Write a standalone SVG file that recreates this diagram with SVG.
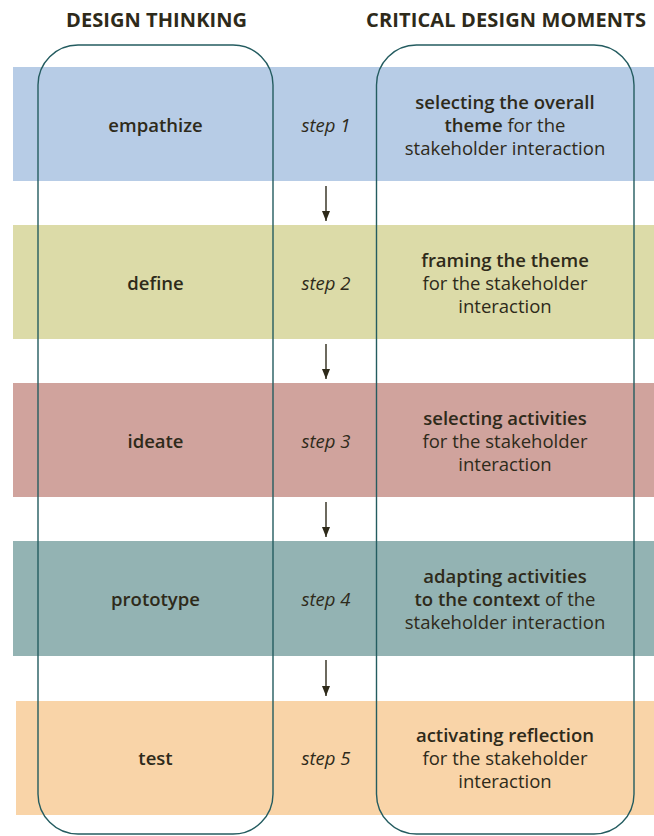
<svg xmlns="http://www.w3.org/2000/svg" width="654" height="836" viewBox="0 0 654 836">
<defs>
<style>
text{font-family:"Open Sans","Noto Sans","Liberation Sans",sans-serif;fill:#2e2a1a;font-size:18.5px;text-anchor:middle}
.h{font-weight:bold;font-size:20px}
.b{font-weight:600}
.s{font-style:italic}
.col{fill:none;stroke:#245c60;stroke-width:1.4}
.arr{stroke:#2e2a1a;stroke-width:1.4;fill:none}
</style>
<marker id="ah" viewBox="0 0 10 8" refX="10" refY="4" markerWidth="10" markerHeight="8" markerUnits="userSpaceOnUse" orient="auto">
<path d="M0,0 L10,4 L0,8 Z" fill="#2e2a1a"/>
</marker>
</defs>
<rect width="654" height="836" fill="#ffffff"/>
<text class="h" x="156.5" y="27" textLength="181" lengthAdjust="spacing">DESIGN THINKING</text>
<text class="h" x="506" y="27" textLength="280" lengthAdjust="spacing">CRITICAL DESIGN MOMENTS</text>

<g id="step1">
<rect x="13" y="67" width="641" height="114" fill="#b7cce6"/>
<text class="b" x="155.5" y="132">empathize</text>
<text class="s" x="326" y="132">step 1</text>
<text x="505" y="109" class="b">selecting the overall</text>
<text x="505" y="132"><tspan class="b">theme</tspan> for the</text>
<text x="505" y="155">stakeholder interaction</text>
</g>
<g id="step2">
<rect x="13" y="225" width="641" height="114" fill="#dcdba8"/>
<text class="b" x="155.5" y="290">define</text>
<text class="s" x="326" y="290">step 2</text>
<text x="505" y="267" class="b">framing the theme</text>
<text x="505" y="290">for the stakeholder</text>
<text x="505" y="313">interaction</text>
</g>
<g id="step3">
<rect x="13" y="383" width="641" height="114" fill="#d0a39d"/>
<text class="b" x="155.5" y="448">ideate</text>
<text class="s" x="326" y="448">step 3</text>
<text x="505" y="425" class="b">selecting activities</text>
<text x="505" y="448">for the stakeholder</text>
<text x="505" y="471">interaction</text>
</g>
<g id="step4">
<rect x="13" y="541" width="641" height="115" fill="#93b3b3"/>
<text class="b" x="155.5" y="606">prototype</text>
<text class="s" x="326" y="606">step 4</text>
<text x="505" y="583" class="b">adapting activities</text>
<text x="505" y="606"><tspan class="b">to the context</tspan> of the</text>
<text x="505" y="629">stakeholder interaction</text>
</g>
<g id="step5">
<rect x="16" y="701" width="638" height="114" fill="#f9d4a8"/>
<text class="b" x="155.5" y="765">test</text>
<text class="s" x="326" y="765">step 5</text>
<text x="505" y="742" class="b">activating reflection</text>
<text x="505" y="765">for the stakeholder</text>
<text x="505" y="788">interaction</text>
</g>

<g id="design-thinking-column">
<rect class="col" x="38" y="45" width="235" height="789" rx="40" ry="40"/>
</g>
<g id="critical-moments-column">
<rect class="col" x="376.5" y="45" width="257.5" height="789" rx="40" ry="40"/>
</g>

<g id="connectors">
<line class="arr" x1="326" y1="186" x2="326" y2="221" marker-end="url(#ah)"/>
<line class="arr" x1="326" y1="344" x2="326" y2="379" marker-end="url(#ah)"/>
<line class="arr" x1="326" y1="502" x2="326" y2="537" marker-end="url(#ah)"/>
<line class="arr" x1="326" y1="660" x2="326" y2="696" marker-end="url(#ah)"/>
</g>
</svg>
